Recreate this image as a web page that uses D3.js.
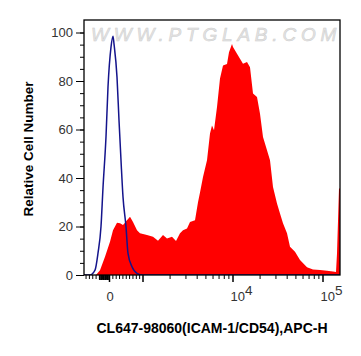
<!DOCTYPE html>
<html><head><meta charset="utf-8">
<script src="https://cdnjs.cloudflare.com/ajax/libs/d3/7.8.5/d3.min.js"></script>
<style>html,body{margin:0;padding:0;background:#fff;}svg{display:block;}</style>
</head><body><svg id="c" width="361" height="356"></svg>
<script>
// Display channels (0..256 across the axis) and relative counts
const redChannel = [0,12,16,21,26,29,33,36,39,43,46,49,53,56,63,69,74,79,83,88,92,96,99,103,106,111,114,116,119,123,126,128,130,133,136,139,143,145,148,149,153,156,159,163,166,169,173,176,179,183,186,189,193,196,199,203,206,211,216,223,229,236,243,249,252,253,255,256];
const redValue   = [0,0,2,7.5,13.7,18.5,21.5,21.3,20.6,22.6,24,21.9,18.5,17.2,16.5,15.8,14.1,16.5,15.1,15.8,14,17.2,18.5,19.2,21.9,22.6,30,34,40.4,47.3,58.3,61.7,59.7,69.3,81,86.4,87,91.9,95.3,94,91.2,89.2,87.1,87.8,85.7,74.8,73.4,66.5,56.9,51.4,47.3,36.3,29.5,25.4,21.3,17.2,11.6,9.6,6.2,3.2,2.3,2.1,1.8,1.4,1.2,8.9,35.7,35.7];
const blueChannel = [0,6,11,14,17,19,22,24,27,29,30,33,35,37,39,42,44,48,53,59,256];
const blueValue   = [0,0,2,9,20,36,57,77.5,94,98.5,95.3,81.6,63.8,47.3,32.2,19.9,8.9,3.4,0.7,0,0];
const yTicks = [0,20,40,60,80,100];
const yMinorTicks = d3.range(0,105,5);
const xMajorTicks = [0,1000,10000,100000];
const xLabels = [{v:0,base:"0",exp:""},{v:10000,base:"10",exp:"4"},{v:100000,base:"10",exp:"5"}];
const xMinorTicks = [-700,-600,-500,-400,-300,-200,-100,100,200,300,400,500,600,700,800,900,
  2000,3000,4000,5000,6000,7000,8000,9000,20000,30000,40000,50000,60000,70000,80000,90000];
const xClusterTicks = d3.range(-300,1,20);
const xTitle = "CL647-98060(ICAM-1/CD54),APC-H";
const yTitle = "Relative Cell Number";
const watermark = "WWW.PTGLAB.COM";

// biexponential-like display transform: value -> channel
function toChannel(v){
  if (v <= 1000) return 25 + v*33.5/1000;
  return 58.5 + 90*Math.log10(v/1000);
}

const L=84, R=340, T=20, B=275;
const svg = d3.select("#c");
const x = d3.scaleLinear().domain([0,256]).range([L,R]);
const y = d3.scaleLinear().domain([0,100]).range([B,32.5]);

// watermark
svg.append("text").attr("x",91).attr("y",41)
  .attr("font-family","Liberation Sans, Arial, sans-serif").attr("font-size",19)
  .attr("font-style","italic").attr("letter-spacing",4.8)
  .attr("fill","#e4e4e4").attr("stroke","#cdcdcd").attr("stroke-width",0.5)
  .text(watermark);

const g = svg.append("g");
g.append("clipPath").attr("id","clip").append("rect").attr("x",L).attr("y",T).attr("width",R-L).attr("height",B-T);

const area = d3.area().x((d,i)=>x(redChannel[i])).y0(y(0)).y1((d,i)=>y(redValue[i]));
g.append("path").datum(redValue).attr("clip-path","url(#clip)")
  .attr("d",area).attr("fill","#ff0000");

const line = d3.line().x((d,i)=>x(blueChannel[i])).y((d,i)=>y(blueValue[i])).curve(d3.curveMonotoneX);
g.append("path").datum(blueValue).attr("clip-path","url(#clip)")
  .attr("d",line).attr("fill","none").attr("stroke","#14148c").attr("stroke-width",1.5);

// frame
svg.append("rect").attr("x",L).attr("y",T).attr("width",R-L).attr("height",B-T)
  .attr("fill","none").attr("stroke","#000").attr("stroke-width",1.3);

const font = "Liberation Sans, Arial, sans-serif";
// y axis
const yAxisMinor = d3.axisLeft(y).tickValues(yMinorTicks).tickSize(4).tickFormat("");
svg.append("g").attr("transform",`translate(${L},0)`).call(yAxisMinor)
  .call(s=>s.select(".domain").remove());
const yAxis = d3.axisLeft(y).tickValues(yTicks).tickSize(8).tickPadding(3);
svg.append("g").attr("transform",`translate(${L},0)`).call(yAxis)
  .call(s=>s.select(".domain").remove())
  .call(s=>s.selectAll("text").attr("font-family",font).attr("font-size",13).attr("fill","#333"));

// x axis
const xPos = v => x(toChannel(v));
const xAx = svg.append("g").attr("transform",`translate(0,${B})`);
const tickSets = [[xMinorTicks,4,1],[xClusterTicks,5,1],[xMajorTicks,7,1.5]];
tickSets.forEach(([vals,len,w])=>{
  const ax = d3.axisBottom(x).tickValues(vals.map(toChannel)).tickSize(len).tickFormat("");
  xAx.append("g").call(ax).call(s=>s.select(".domain").remove())
    .call(s=>s.selectAll("line").attr("stroke-width",w));
});
xLabels.forEach(l=>{
  const p = xPos(l.v);
  if (!l.exp) {
    svg.append("text").attr("x",p+1).attr("y",301).attr("text-anchor","middle")
      .attr("font-family",font).attr("font-size",13).attr("fill","#333").text(l.base);
  } else {
    svg.append("text").attr("x",p-2).attr("y",301).attr("text-anchor","start")
      .attr("font-family",font).attr("font-size",13).attr("fill","#333").text(l.base);
    svg.append("text").attr("x",p+12.5).attr("y",295).attr("text-anchor","start")
      .attr("font-family",font).attr("font-size",13.5).attr("fill","#333").text(l.exp);
  }
});

// titles
svg.append("text").attr("x",212).attr("y",333).attr("text-anchor","middle")
  .attr("font-family",font).attr("font-weight","bold").attr("font-size",14).attr("fill","#000").text(xTitle);
svg.append("text").attr("transform","translate(33,149) rotate(-90)").attr("text-anchor","middle")
  .attr("font-family",font).attr("font-weight","bold").attr("font-size",13.5).attr("fill","#000").text(yTitle);
</script></body></html>
